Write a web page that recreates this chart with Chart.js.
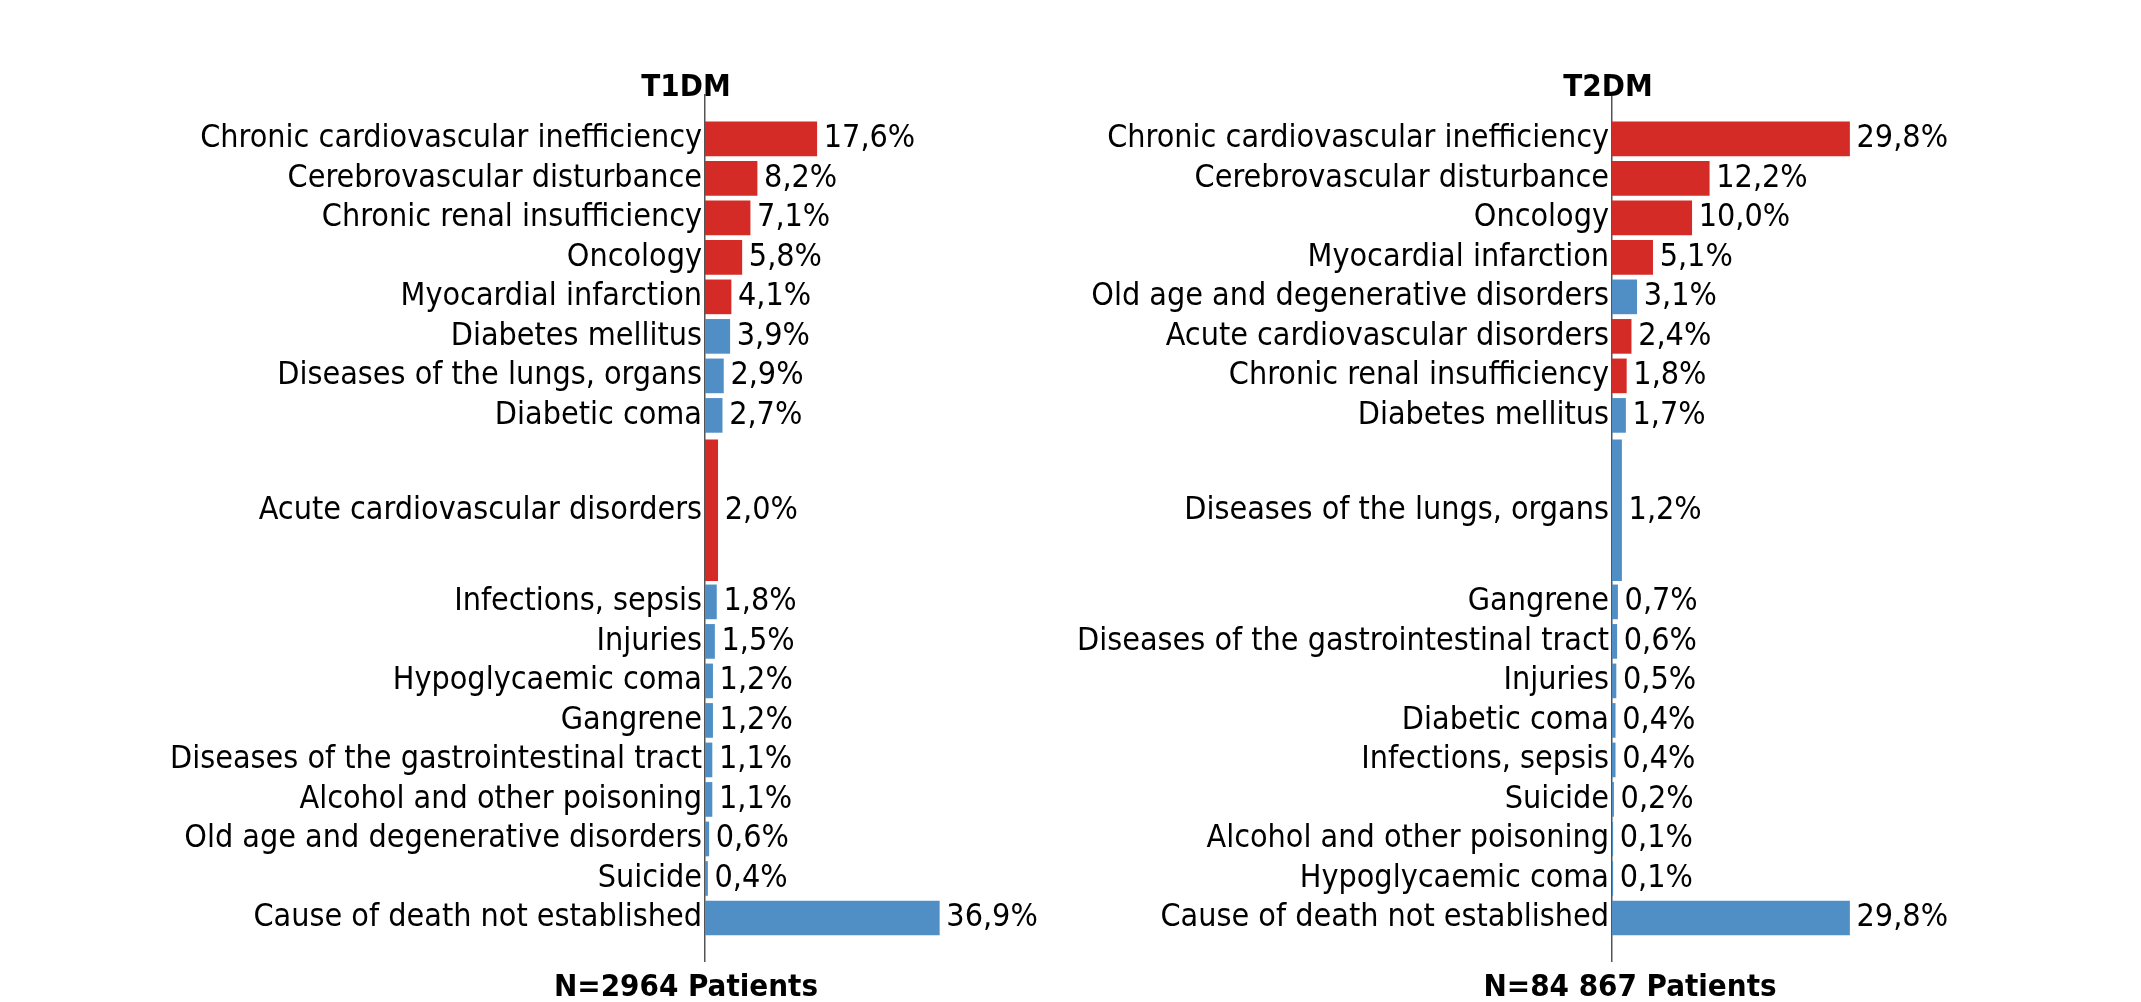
<!DOCTYPE html>
<html><head><meta charset="utf-8">
<script src="https://cdn.jsdelivr.net/npm/chart.js@4"></script>
<style>
body{margin:0;background:#fff;width:2141px;height:1002px;position:relative;overflow:hidden;font-family:"Liberation Sans Narrow","DejaVu Sans Condensed",sans-serif}
canvas{position:absolute;top:0}
.t{position:absolute;font-weight:bold;font-size:31px;transform:translate(-50%,-50%);white-space:nowrap}
</style></head><body>
<canvas id="c1" width="1070" height="1002" style="left:0"></canvas>
<canvas id="c2" width="1071" height="1002" style="left:1070px"></canvas>
<div class="t" style="left:686px;top:85px">T1DM</div>
<div class="t" style="left:1608px;top:85px">T2DM</div>
<div class="t" style="left:686px;top:985px">N=2964 Patients</div>
<div class="t" style="left:1630px;top:985px">N=84 867 Patients</div>
<script>
// === DONNÉES ===
const rowPos = [0,1,2,3,4,5,6,7,9.4,11.72,12.72,13.72,14.72,15.72,16.72,17.72,18.72,19.72];
const tallIndex = 8;

const t1Labels = ['Chronic cardiovascular inefficiency','Cerebrovascular disturbance','Chronic renal insufficiency','Oncology','Myocardial infarction','Diabetes mellitus','Diseases of the lungs, organs','Diabetic coma','Acute cardiovascular disorders','Infections, sepsis','Injuries','Hypoglycaemic coma','Gangrene','Diseases of the gastrointestinal tract','Alcohol and other poisoning','Old age and degenerative disorders','Suicide','Cause of death not established'];
const t1Values = [17.6,8.2,7.1,5.8,4.1,3.9,2.9,2.7,2.0,1.8,1.5,1.2,1.2,1.1,1.1,0.6,0.4,36.9];
const t1Red = [1,1,1,1,1,0,0,0,1,0,0,0,0,0,0,0,0,0];

const t2Labels = ['Chronic cardiovascular inefficiency','Cerebrovascular disturbance','Oncology','Myocardial infarction','Old age and degenerative disorders','Acute cardiovascular disorders','Chronic renal insufficiency','Diabetes mellitus','Diseases of the lungs, organs','Gangrene','Diseases of the gastrointestinal tract','Injuries','Diabetic coma','Infections, sepsis','Suicide','Alcohol and other poisoning','Hypoglycaemic coma','Cause of death not established'];
const t2Values = [29.8,12.2,10.0,5.1,3.1,2.4,1.8,1.7,1.2,0.7,0.6,0.5,0.4,0.4,0.2,0.1,0.1,29.8];
const t2Red = [1,1,1,1,0,1,1,0,0,0,0,0,0,0,0,0,0,0];

const ROUGE = '#D52B27', BLEU = '#4F8FC6';
const police = '"Liberation Sans Narrow","DejaVu Sans Condensed",sans-serif';

// ÉTIQUETTES DE VALEUR
const etiquettes = {
  id: 'etiquettes',
  afterDatasetsDraw(chart) {
    const ctx = chart.ctx;
    ctx.save();
    ctx.font = '32px ' + police;
    ctx.fillStyle = '#000';
    ctx.textBaseline = 'middle';
    chart.data.datasets.forEach((ds, i) => {
      chart.getDatasetMeta(i).data.forEach((bar, j) => {
        const v = ds.data[j].x;
        ctx.fillText(v.toFixed(1).replace('.', ',') + '%', bar.x + 7, bar.y);
      });
    });
    ctx.restore();
  }
};

function creerGraphique(id, labels, values, reds, axisW, xMax, padRight) {
  const normaux = [], grands = [], cNorm = [], cGrand = [];
  values.forEach((v, i) => {
    const p = { x: v, y: rowPos[i] };
    const c = reds[i] ? ROUGE : BLEU;
    if (i === tallIndex) { grands.push(p); cGrand.push(c); }
    else { normaux.push(p); cNorm.push(c); }
  });
  new Chart(document.getElementById(id), {
    type: 'bar',
    data: { datasets: [
      { data: normaux, backgroundColor: cNorm, barThickness: 34 },
      { data: grands, backgroundColor: cGrand, barThickness: 141 }
    ] },
    options: {
      responsive: false, animation: false, indexAxis: 'y', grouped: false,
      layout: { padding: { top: 95, bottom: 41, right: padRight, left: 0 } },
      plugins: { legend: { display: false }, tooltip: { enabled: false } },
      scales: {
        x: { display: false, min: 0, max: xMax },
        y: {
          type: 'linear', reverse: true, min: -0.5, max: 20.2,
          afterBuildTicks: s => { s.ticks = rowPos.map(v => ({ value: v })); },
          afterFit: s => { s.width = axisW; },
          ticks: { color: '#000', font: { size: 32, family: police }, padding: 3, autoSkip: false,
            callback: v => labels[rowPos.indexOf(v)] },
          grid: { display: false, drawTicks: false },
          border: { color: '#555', width: 1.5 }
        }
      }
    },
    plugins: [etiquettes]
  });
}

creerGraphique('c1', t1Labels, t1Values, t1Red, 705, 40, 111);
creerGraphique('c2', t2Labels, t2Values, t2Red, 542, 35, 250);
</script></body></html>
